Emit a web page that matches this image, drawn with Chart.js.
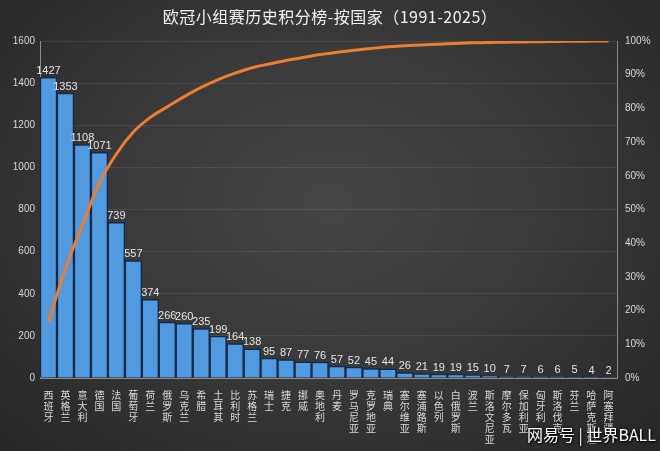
<!DOCTYPE html>
<html>
<head>
<meta charset="utf-8">
<script src="https://cdn.jsdelivr.net/npm/chart.js@4/dist/chart.umd.min.js"></script>
<style>
  html, body { margin: 0; padding: 0; }
  body {
    width: 660px; height: 451px; overflow: hidden; position: relative;
    background: radial-gradient(ellipse at 50% 45%, #454545 0%, #3a3a3a 45%, #262626 100%);
    font-family: "Noto Sans CJK SC", "Noto Sans", sans-serif;
  }
  #title {
    position: absolute; left: 0; top: 4px; width: 660px; text-align: center;
    color: #f2f2f2; font-size: 16px; letter-spacing: 0.5px;
  }
  #mark {
    position: absolute; right: 4px; bottom: 5px; color: #ffffff; font-size: 16px;
    text-shadow: 0 0 3px #000, 1px 1px 2px #000;
  }
  #wrap { position: absolute; left: 0; top: 0; width: 660px; height: 451px; }
</style>
</head>
<body>
<div id="wrap"><canvas id="chart" width="660" height="451"></canvas></div>
<div id="title">欧冠小组赛历史积分榜-按国家（1991-2025）</div>
<div id="mark">网易号 | 世界BALL</div>
<script>
// countries, in order of points
var countries = ['西班牙','英格兰','意大利','德国','法国','葡萄牙','荷兰','俄罗斯','乌克兰','希腊',
    '土耳其','比利时','苏格兰','瑞士','捷克','挪威','奥地利','丹麦','罗马尼亚','克罗地亚',
    '瑞典','塞尔维亚','塞浦路斯','以色列','白俄罗斯','波兰','斯洛文尼亚','摩尔多瓦','保加利亚','匈牙利',
    '斯洛伐克','芬兰','哈萨克斯坦','阿塞拜疆']

var points = [1427,1353,1108,1071,739,557,374,266,260,235,
    199,164,138,95,87,77,76,57,52,45,
    44,26,21,19,19,15,10,7,7,6,
    6,5,4,2]

// cumulative share (%)
var cumulative = [16.65,32.43,45.36,57.86,66.48,72.98,77.34,80.45,83.48,86.22,
    88.54,90.46,92.07,93.17,94.19,95.09,95.97,96.64,97.25,97.77,
    98.28,98.59,98.83,99.05,99.28,99.45,99.57,99.65,99.73,99.80,
    99.87,99.93,99.98,100]

var leftTicks = [0,200,400,600,800,1000,1200,1400,1600]

// vertical labels: one character per line
var verticalLabels = countries.map(x => x.split(''))

var valueLabels = {
    id: 'valueLabels',
    afterDatasetsDraw(chart) {
        let ctx = chart.ctx
        let meta = chart.getDatasetMeta(1)
        ctx.save()
        ctx.font = '11px "Liberation Sans", "Noto Sans", sans-serif'
        ctx.fillStyle = '#e6e6e6'
        ctx.textAlign = 'center'
        ctx.textBaseline = 'bottom'
        meta.data.forEach((bar, i) => {
            ctx.fillText(points[i], bar.x, bar.y - 1)
        })
        ctx.restore()
    }
}

var ctx = document.getElementById('chart').getContext('2d')
var chart = new Chart(ctx, {
    type: 'bar',
    data: {
        labels: verticalLabels,
        datasets: [{
            type: 'line',
            label: '累计占比',
            data: cumulative,
            yAxisID: 'y1',
            borderColor: '#ED7D31',
            borderWidth: 3,
            pointRadius: 0,
            tension: 0.4,
            fill: false,
            order: 0
        }, {
            type: 'bar',
            label: '积分',
            data: points,
            yAxisID: 'y',
            backgroundColor: '#519ae0',
            borderColor: '#13294a',
            borderWidth: 1.5,
            barPercentage: 1,
            categoryPercentage: 1,
            order: 1
        }]
    },
    options: {
        responsive: false,
        animation: false,
        layout: { padding: { top: 41, left: 0, right: 0, bottom: 0 } },
        plugins: {
            legend: { display: false },
            title: { display: false },
            tooltip: { enabled: false }
        },
        scales: {
            x: {
                grid: { display: false },
                border: { color: '#8c8c8c', width: 1 },
                ticks: {
                    color: '#d9d9d9',
                    font: { size: 10, family: '"Noto Sans CJK SC", sans-serif', lineHeight: '11px' },
                    maxRotation: 0, minRotation: 0, autoSkip: false, padding: 4
                },
                afterFit(scale) { scale.height = 73 }
            },
            y: {
                position: 'left',
                min: 0, max: 1600,
                afterBuildTicks(scale) { scale.ticks = leftTicks.map(v => ({ value: v })) },
                grid: { color: 'rgba(255,255,255,0.09)', drawTicks: false },
                border: { color: '#8c8c8c', width: 1 },
                ticks: {
                    color: '#d9d9d9', padding: 5,
                    font: { size: 10, family: '"Liberation Sans", "Noto Sans", sans-serif' },
                    callback: v => String(v)
                },
                afterFit(scale) { scale.width = 40 }
            },
            y1: {
                position: 'right',
                min: 0, max: 100,
                grid: { display: false, drawTicks: false },
                border: { color: '#8c8c8c', width: 1 },
                ticks: {
                    stepSize: 10, color: '#d9d9d9', padding: 8,
                    font: { size: 10, family: '"Liberation Sans", "Noto Sans", sans-serif' },
                    callback: v => v + '%'
                },
                afterFit(scale) { scale.width = 43 }
            }
        }
    },
    plugins: [valueLabels]
})
</script>
</body>
</html>
